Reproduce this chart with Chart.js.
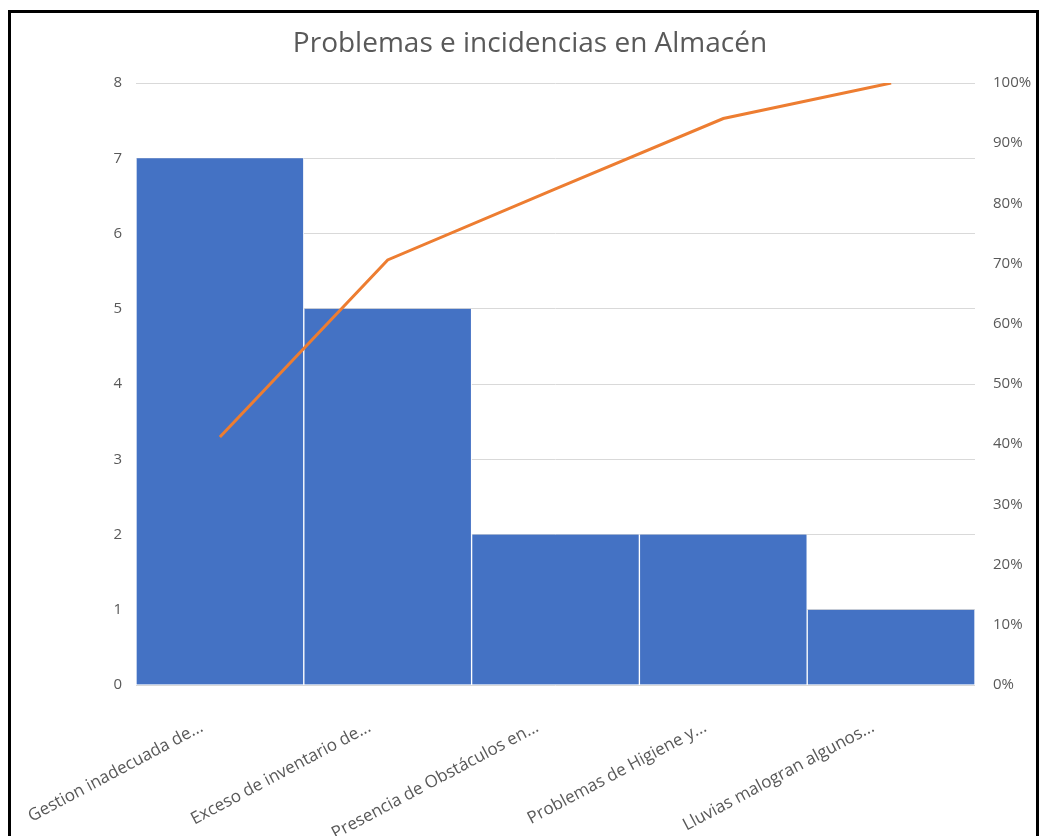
<!DOCTYPE html>
<html><head><meta charset="utf-8">
<script src="https://cdn.jsdelivr.net/npm/chart.js@4/dist/chart.umd.min.js"></script>
<style>
html,body{margin:0;padding:0;background:#fff;}
#wrap{position:relative;width:1040px;height:836px;overflow:hidden;background:#fff;}
#c{position:absolute;left:0;top:0;}
#frame{position:absolute;left:8px;top:10px;width:1025px;height:840px;border:3px solid #000;pointer-events:none;}
</style></head><body>
<div id="wrap"><canvas id="c" width="1040" height="836"></canvas><div id="frame"></div></div>
<script>
const categories = ["Gestion inadecuada de...", "Exceso de inventario de...", "Presencia de Obstáculos en...", "Problemas de Higiene y...", "Lluvias malogran algunos..."];
const counts = [7, 5, 2, 2, 1];
const cumulativePct = [0.412, 0.706, 0.824, 0.941, 1.0];
const pctTickLabels = ["0%","10%","20%","30%","40%","50%","60%","70%","80%","90%","100%"];
const chartTitle = "Problemas e incidencias en Almacén";

const FONT = "'Open Sans', 'Liberation Sans', sans-serif";
const GRAY = "#595959";

new Chart(document.getElementById('c'), {
  data: {
    labels: categories,
    datasets: [
      {
        type: 'line',
        data: cumulativePct,
        yAxisID: 'y1',
        borderColor: '#ED7D31',
        borderWidth: 3,
        pointRadius: 0,
        tension: 0,
        order: 0
      },
      {
        type: 'bar',
        data: counts,
        yAxisID: 'y',
        backgroundColor: '#4472C4',
        borderColor: '#ffffff',
        borderWidth: {left: 1, right: 1, top: 0, bottom: 0},
        borderSkipped: false,
        barPercentage: 1,
        categoryPercentage: 1,
        order: 1
      }
    ]
  },
  options: {
    responsive: false,
    animation: false,
    devicePixelRatio: 1,
    layout: {padding: {top: 27, left: 20, right: 0, bottom: 0}},
    plugins: {
      legend: {display: false},
      tooltip: {enabled: false},
      title: {
        display: true,
        text: chartTitle,
        color: GRAY,
        font: {family: FONT, size: 28, weight: 'normal', lineHeight: 1.2},
        padding: {top: 0, bottom: 22.4}
      }
    },
    scales: {
      x: {
        type: 'category',
        offset: true,
        grid: {display: false, drawTicks: false},
        border: {display: false},
        ticks: {
          color: GRAY,
          font: {family: FONT, size: 17},
          autoSkip: false,
          minRotation: 28,
          maxRotation: 28,
          padding: 32,
          labelOffset: -18
        },
        afterFit: s => { s.height = 151; }
      },
      y: {
        position: 'left',
        min: 0, max: 8,
        ticks: {stepSize: 1, color: GRAY, font: {family: FONT, size: 15}, padding: 14},
        grid: {color: '#d9d9d9', drawTicks: false, lineWidth: 1},
        border: {display: false},
        afterFit: s => { s.width = 116; }
      },
      y1: {
        position: 'right',
        min: 0, max: 1,
        ticks: {stepSize: 0.1, color: GRAY, font: {family: FONT, size: 15}, padding: 18,
          callback: (v, i) => pctTickLabels[i]},
        grid: {display: false, drawTicks: false},
        border: {display: false},
        afterFit: s => { s.width = 65; }
      }
    }
  }
});
</script>
</body></html>
